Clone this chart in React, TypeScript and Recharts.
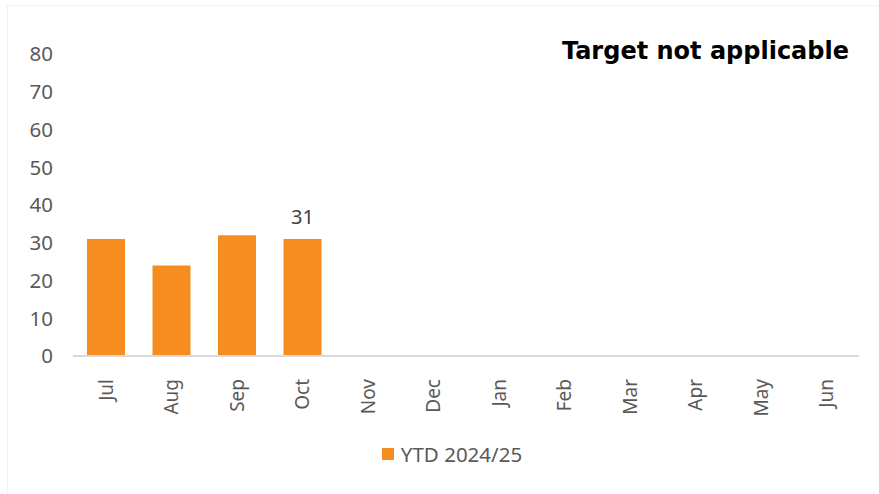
import React from "react";
import { BarChart, Bar, XAxis, YAxis, Legend, LabelList } from "recharts";

// months of the financial year
const months = ["Jul", "Aug", "Sep", "Oct", "Nov", "Dec", "Jan", "Feb", "Mar", "Apr", "May", "Jun"];
// YTD values (only first four months reported)
const ytdValues: (number | null)[] = [31, 24, 32, 31, null, null, null, null, null, null, null, null];
// data label shown only on the latest month
const shownLabels: (number | null)[] = [null, null, null, 31, null, null, null, null, null, null, null, null];
const yTicks = [0, 10, 20, 30, 40, 50, 60, 70, 80];

const data = months.map((m, i) => ({ month: m, ytd: ytdValues[i], label: shownLabels[i] }));

const axisFont = "'Noto Sans', 'Open Sans', sans-serif";
const orange = "#F58D21";

const MonthTick = (props: any) => {
    const { x, y, payload } = props;
    return (
        <text
            x={x}
            y={y}
            transform={`rotate(-90, ${x}, ${y}) translate(-15, 7)`}
            textAnchor="end"
            fill="#595959"
            fontSize={19}
            fontFamily={axisFont}
        >
            {payload.value}
        </text>
    );
};

const LegendContent = () => (
    <div style={{ display: "flex", justifyContent: "center", alignItems: "center", height: 30, paddingTop: 5 }}>
        <span style={{ width: 12, height: 12, background: orange, display: "inline-block", marginRight: 7, marginLeft: 45 }} />
        <span style={{ fontFamily: axisFont, fontSize: 20.5, color: "#595959" }}>YTD 2024/25</span>
    </div>
);

export default function App() {
    return (
        <div style={{ position: "fixed", left: 0, top: 0, width: 879, height: 494, background: "#fff" }}>
            <div style={{ position: "absolute", left: 7, top: 5, right: 0, bottom: 0, borderLeft: "1px solid #f2f2f2", borderTop: "1px solid #f2f2f2" }} />
            <div
                style={{
                    position: "absolute",
                    right: 30,
                    top: 37,
                    fontFamily: "'DejaVu Sans', sans-serif",
                    fontWeight: 700,
                    fontSize: 24,
                    color: "#000",
                }}
            >
                Target not applicable
            </div>
            <BarChart
                width={879}
                height={494}
                data={data}
                margin={{ top: 54, right: 20, left: 0, bottom: 28 }}
                barSize={38}
            >
                <YAxis
                    domain={[0, 80]}
                    ticks={yTicks}
                    axisLine={false}
                    tickLine={false}
                    tickSize={0}
                    tickMargin={20}
                    width={73}
                    interval={0}
                    tick={{ fill: "#595959", fontSize: 20.5, fontFamily: axisFont }}
                />
                <XAxis
                    dataKey="month"
                    interval={0}
                    axisLine={{ stroke: "#d9d9d9", strokeWidth: 2 }}
                    tickLine={false}
                    height={78}
                    tick={<MonthTick />}
                />
                <Legend verticalAlign="bottom" height={32} content={<LegendContent />} />
                <Bar dataKey="ytd" name="YTD 2024/25" fill={orange} isAnimationActive={false}>
                    <LabelList
                        dataKey="label"
                        position="top"
                        offset={15}
                        fill="#404040"
                        fontSize={20}
                        fontFamily={axisFont}
                    />
                </Bar>
            </BarChart>
        </div>
    );
}
